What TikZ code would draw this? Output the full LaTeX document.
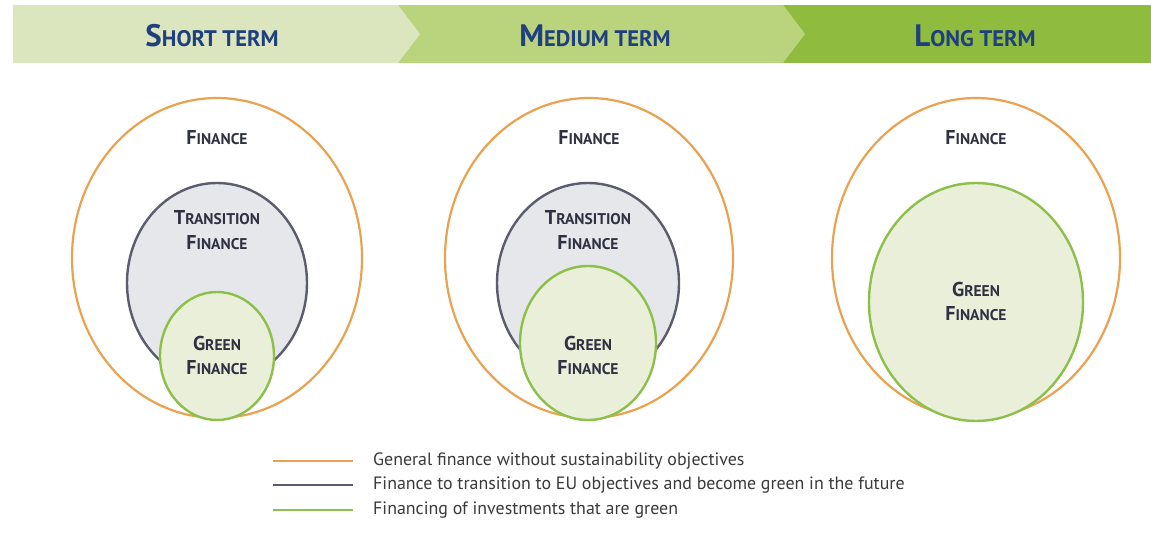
\documentclass[tikz,border=0pt]{standalone}
\usepackage{fontspec}
\setmainfont{PT Sans}
\usetikzlibrary{positioning}
\definecolor{hdrA}{HTML}{DCE6BE}
\definecolor{hdrB}{HTML}{BAD47E}
\definecolor{hdrC}{HTML}{8FBB3E}
\definecolor{hdrtxt}{HTML}{1F3F7F}
\definecolor{orangec}{HTML}{E9A250}
\definecolor{greyc}{HTML}{5B5D6E}
\definecolor{greenc}{HTML}{8DC04A}
\definecolor{transfill}{HTML}{E6E7EA}
\definecolor{greenfill}{HTML}{EAEFDA}
\definecolor{lbl}{HTML}{2E3142}
\definecolor{legtxt}{HTML}{3A3A3A}
\newcommand\hdcaps[2]{{\fontsize{31}{31}\selectfont #1}{\fontsize{22.5}{22.5}\selectfont #2}}
\newcommand\lbcaps[2]{{\fontsize{20}{20}\selectfont #1}{\fontsize{15.5}{15.5}\selectfont #2}}
\tikzset{
  hdr/.style={font=\bfseries, text=hdrtxt, anchor=center},
  lab/.style={font=\bfseries, text=lbl, anchor=center, inner sep=0pt},
  outerc/.style={draw=orangec, line width=2.2pt, fill=white},
  transc/.style={draw=greyc, line width=2.4pt, fill=transfill},
  greenci/.style={draw=greenc, line width=2.4pt, fill=greenfill},
  legline/.style={line width=2.2pt},
  legtext/.style={font=\fontsize{17.9}{17.9}\selectfont, text=legtxt, anchor=west, inner sep=0pt}
}
\begin{document}
\begin{tikzpicture}[x=1pt,y=-1pt]
\useasboundingbox (0,0) rectangle (1151,538);
\fill[white] (0,0) rectangle (1151,538);
% header banner
\fill[hdrC] (783,5) -- (1151,5) -- (1151,63) -- (783,63) -- cycle;
\fill[hdrB] (398,5) -- (783,5) -- (805,34) -- (783,63) -- (398,63) -- cycle;
\fill[hdrA] (13,5) -- (398,5) -- (420,34) -- (398,63) -- (13,63) -- cycle;
\node[hdr] (h1) at (212,36) {\hdcaps{S}{HORT TERM}};
\node[hdr] (h2) at (595,36) {\hdcaps{M}{EDIUM TERM}};
\node[hdr] (h3) at (975,36) {\hdcaps{L}{ONG TERM}};
% short term
\draw[outerc] (217,258) ellipse [x radius=145, y radius=160];
\draw[transc] (217,283) ellipse [x radius=90, y radius=100];
\draw[greenci] (217,356) ellipse [x radius=57, y radius=64];
\node[lab] (s1) at (217,138) {\lbcaps{F}{INANCE}};
\node[lab] (s2a) at (217,218) {\lbcaps{T}{RANSITION}};
\node[lab] (s2b) at (217,243) {\lbcaps{F}{INANCE}};
\node[lab] (s3a) at (217,343) {\lbcaps{G}{REEN}};
\node[lab] (s3b) at (217,368) {\lbcaps{F}{INANCE}};
% medium term
\draw[outerc] (589,258) ellipse [x radius=144, y radius=160];
\draw[transc] (588,283) ellipse [x radius=91, y radius=100];
\draw[greenci] (588,343) ellipse [x radius=68, y radius=77];
\node[lab] (m1) at (589,138) {\lbcaps{F}{INANCE}};
\node[lab] (m2a) at (588,218) {\lbcaps{T}{RANSITION}};
\node[lab] (m2b) at (588,243) {\lbcaps{F}{INANCE}};
\node[lab] (m3a) at (588,343) {\lbcaps{G}{REEN}};
\node[lab] (m3b) at (588,368) {\lbcaps{F}{INANCE}};
% long term
\draw[outerc] (976,258) ellipse [x radius=144, y radius=160];
\draw[greenci] (976,302) ellipse [x radius=107, y radius=119];
\node[lab] (l1) at (976,138) {\lbcaps{F}{INANCE}};
\node[lab] (l3a) at (976,289) {\lbcaps{G}{REEN}};
\node[lab] (l3b) at (976,314) {\lbcaps{F}{INANCE}};
% legend
\coordinate (a1) at (273,461); \coordinate (b1) at (353,461);
\coordinate (a2) at (273,485); \coordinate (b2) at (353,485);
\coordinate (a3) at (273,510); \coordinate (b3) at (353,510);
\draw[legline, orangec] (a1) -- (b1);
\draw[legline, greyc] (a2) -- (b2);
\draw[legline, greenc] (a3) -- (b3);
\node[legtext] (t1) at (373,461) {General finance without sustainability objectives};
\node[legtext] (t2) at (373,485) {Finance to transition to EU objectives and become green in the future};
\node[legtext] (t3) at (373,510) {Financing of investments that are green};
\end{tikzpicture}
\end{document}
